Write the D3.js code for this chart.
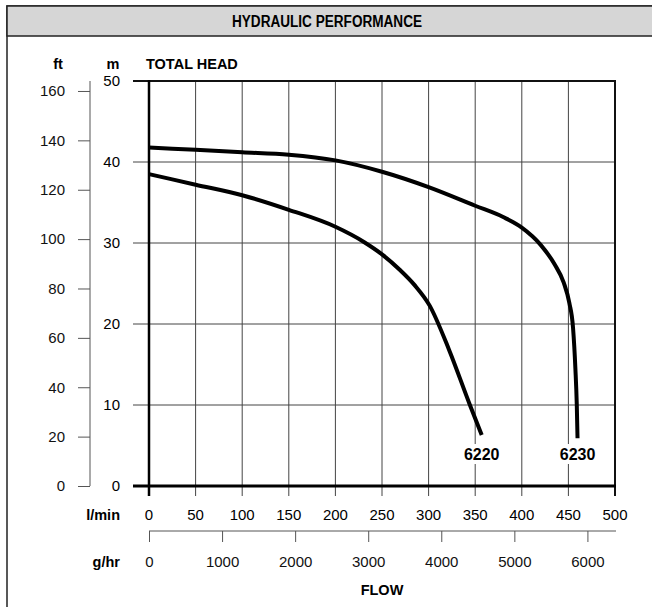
<!DOCTYPE html>
<html>
<head>
<meta charset="utf-8">
<script src="https://cdn.jsdelivr.net/npm/d3@7"></script>
<style>
  html, body { margin: 0; padding: 0; background: #fff; }
  svg { display: block; font-family: "Liberation Sans", Arial, Helvetica, sans-serif; }
</style>
</head>
<body>
<svg id="chart" width="652" height="607"></svg>
<script>
// ---- data ----
const flowTicksLpm = [0, 50, 100, 150, 200, 250, 300, 350, 400, 450, 500];
const headTicksM = [0, 10, 20, 30, 40, 50];
const headTicksFt = [0, 20, 40, 60, 80, 100, 120, 140, 160];
const flowTicksGph = [0, 1000, 2000, 3000, 4000, 5000, 6000];

const flow6230 = [0, 50, 100, 150, 200, 250, 300, 350, 380, 400, 420, 435, 445, 451, 455, 457.5, 459, 459.8];
const head6230 = [41.8, 41.5, 41.2, 40.9, 40.2, 38.8, 36.9, 34.6, 33.2, 31.9, 29.8, 27.4, 25.1, 22.6, 19.5, 14.5, 10.0, 5.9];

const flow6220 = [0, 50, 100, 150, 200, 231, 250, 269, 285, 301, 322, 344, 357];
const head6220 = [38.5, 37.2, 35.9, 34.1, 32.0, 30.1, 28.6, 26.7, 24.8, 22.3, 16.8, 10.1, 6.3];

const seriesNames = ["6220", "6230"];
const LPM_PER_GPH_1000 = 78.4; // l/min per 1000 g/hr as drawn
const M_PER_FT = 0.3048;

// ---- layout ----
const svg = d3.select("#chart");
const x = d3.scaleLinear().domain([0, 500]).range([149, 615]);
const y = d3.scaleLinear().domain([0, 50]).range([486, 81]);
const yFt = d3.scaleLinear().domain([0, 50 / M_PER_FT]).range([486, 81]);
const xG = d3.scaleLinear().domain([0, 500 / LPM_PER_GPH_1000 * 1000]).range([149, 615]);

const FS = 15;

// outer frame
svg.append("rect").attr("x", 7).attr("y", 6).attr("width", 700).attr("height", 700)
  .attr("fill", "none").attr("stroke", "#222").attr("stroke-width", 1.5);
// header
svg.append("rect").attr("x", 7).attr("y", 6).attr("width", 700).attr("height", 30)
  .attr("fill", "#d6d6d6").attr("stroke", "#222").attr("stroke-width", 1.5);
svg.append("text").attr("x", 327).attr("y", 27).attr("text-anchor", "middle")
  .attr("font-weight", "bold").attr("font-size", 16).attr("textLength", 190)
  .attr("lengthAdjust", "spacingAndGlyphs").text("HYDRAULIC PERFORMANCE");

// grid: vertical lines
const g = svg.append("g");
g.selectAll("line.v").data(flowTicksLpm.slice(1, -1)).join("line")
  .attr("x1", d => x(d)).attr("x2", d => x(d))
  .attr("y1", y(50)).attr("y2", y(0) + 10)
  .attr("stroke", "#444").attr("stroke-width", 1);
// horizontal
g.selectAll("line.h").data(headTicksM.slice(1, -1)).join("line")
  .attr("x1", x(0) - 16).attr("x2", x(500))
  .attr("y1", d => y(d)).attr("y2", d => y(d))
  .attr("stroke", "#444").attr("stroke-width", 1);

// frame lines of plot
g.append("line").attr("x1", x(0) - 16).attr("x2", x(500)).attr("y1", y(50)).attr("y2", y(50))
  .attr("stroke", "#111").attr("stroke-width", 2);
g.append("line").attr("x1", x(500)).attr("x2", x(500)).attr("y1", y(50) - 1).attr("y2", y(0) + 10)
  .attr("stroke", "#111").attr("stroke-width", 2);
g.append("line").attr("x1", x(0)).attr("x2", x(0)).attr("y1", y(50) - 1).attr("y2", y(0) + 10)
  .attr("stroke", "#000").attr("stroke-width", 2.5);
g.append("line").attr("x1", x(0) - 16).attr("x2", x(500) + 1).attr("y1", y(0)).attr("y2", y(0))
  .attr("stroke", "#000").attr("stroke-width", 3);

// m axis labels
svg.selectAll("text.m").data(headTicksM).join("text")
  .attr("x", 120).attr("y", d => y(d)).attr("dy", "0.36em")
  .attr("text-anchor", "end").attr("font-size", FS).text(d => d);

// ft axis
const ftAxis = svg.append("g").attr("transform", "translate(90,0)")
  .call(d3.axisLeft(yFt).tickValues(headTicksFt).tickSize(12).tickPadding(13).tickSizeOuter(0));
ftAxis.select(".domain").attr("stroke", "#555").attr("d", `M0,${y(50)}V${y(0)}`);
ftAxis.selectAll(".tick line").attr("stroke", "#555");
ftAxis.selectAll(".tick text").attr("font-size", FS).attr("font-family", null).attr("fill", "#111");

// axis titles
svg.append("text").attr("x", 58).attr("y", 69).attr("text-anchor", "middle")
  .attr("font-weight", "bold").attr("font-size", FS - 0.5).text("ft");
svg.append("text").attr("x", 113).attr("y", 69).attr("text-anchor", "middle")
  .attr("font-weight", "bold").attr("font-size", FS - 0.5).text("m");
svg.append("text").attr("x", 146).attr("y", 69)
  .attr("font-weight", "bold").attr("font-size", FS - 0.5).text("TOTAL HEAD");

// l/min labels
svg.selectAll("text.lpm").data(flowTicksLpm).join("text")
  .attr("x", d => x(d)).attr("y", 515).attr("dy", "0.36em")
  .attr("text-anchor", "middle").attr("font-size", FS).text(d => d);
svg.append("text").attr("x", 120).attr("y", 515).attr("dy", "0.36em").attr("text-anchor", "end")
  .attr("font-weight", "bold").attr("font-size", FS - 0.5).text("l/min");

// g/hr axis
const gAxis = svg.append("g").attr("transform", "translate(0,531)")
  .call(d3.axisBottom(xG).tickValues(flowTicksGph).tickFormat(d3.format("d"))
    .tickSize(11).tickPadding(14).tickSizeOuter(0));
gAxis.select(".domain").attr("stroke", "#555").attr("d", `M${x(0)},0H${x(500) + 1}`);
gAxis.selectAll(".tick line").attr("stroke", "#555");
gAxis.selectAll(".tick text").attr("font-size", FS).attr("font-family", null).attr("fill", "#111");
svg.append("text").attr("x", 120).attr("y", 562).attr("dy", "0.36em").attr("text-anchor", "end")
  .attr("font-weight", "bold").attr("font-size", FS - 0.5).text("g/hr");
svg.append("text").attr("x", 382).attr("y", 590).attr("dy", "0.36em").attr("text-anchor", "middle")
  .attr("font-weight", "bold").attr("font-size", FS - 0.5).text("FLOW");

// curves
const line = d3.line().x(d => x(d[0])).y(d => y(d[1])).curve(d3.curveMonotoneX);
const series = [
  { name: seriesNames[0], pts: flow6220.map((f, i) => [f, head6220[i]]) },
  { name: seriesNames[1], pts: flow6230.map((f, i) => [f, head6230[i]]) }
];
svg.selectAll("path.curve").data(series).join("path")
  .attr("d", d => line(d.pts)).attr("fill", "none")
  .attr("stroke", "#000").attr("stroke-width", 4);

// curve labels
series.forEach(s => {
  const last = s.pts[s.pts.length - 1];
  const lx = x(last[0]);
  svg.append("rect").attr("x", lx - 20).attr("y", 444).attr("width", 40).attr("height", 20).attr("fill", "#fff");
  svg.append("text").attr("x", lx).attr("y", 460).attr("text-anchor", "middle")
    .attr("font-weight", "bold").attr("font-size", 16).text(s.name);
});
</script>
</body>
</html>
